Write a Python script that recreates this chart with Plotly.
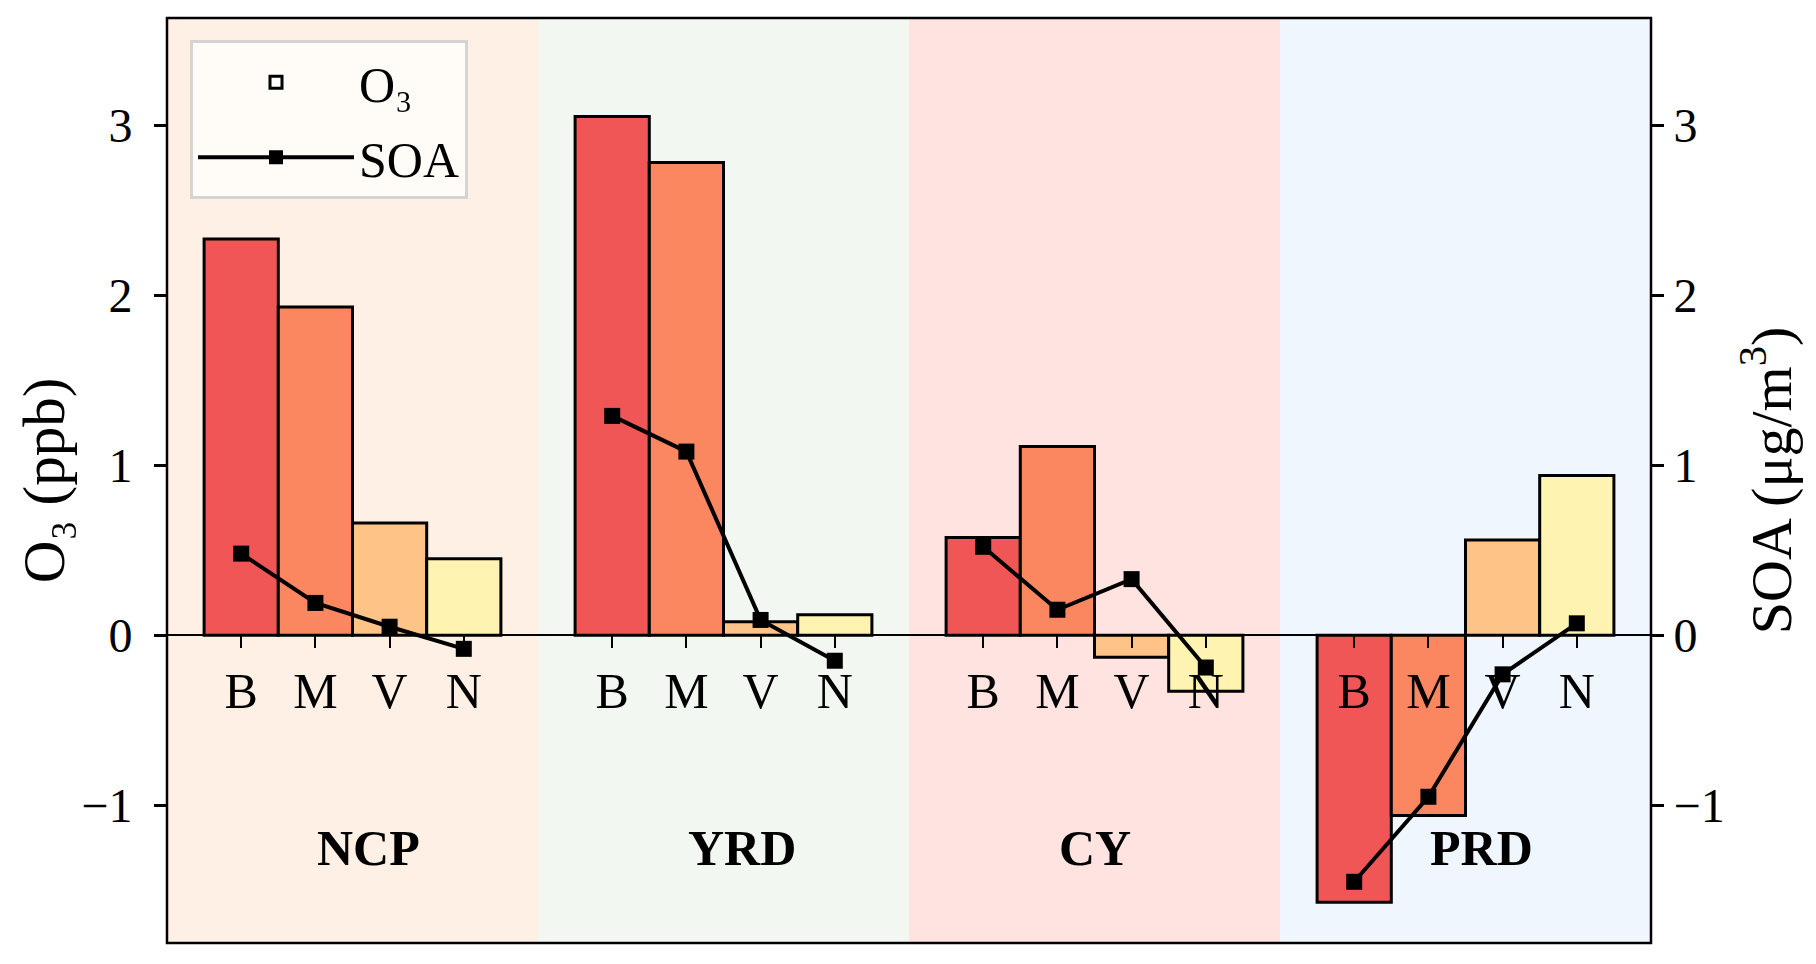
import plotly.graph_objects as go

# data
regions = ["NCP", "YRD", "CY", "PRD"]
sources = ["B", "M", "V", "N"]
o3_ncp = [2.33, 1.93, 0.66, 0.45]
o3_yrd = [3.05, 2.78, 0.08, 0.12]
o3_cy = [0.575, 1.11, -0.13, -0.33]
o3_prd = [-1.57, -1.06, 0.56, 0.94]
soa_ncp = [0.48, 0.19, 0.05, -0.08]
soa_yrd = [1.29, 1.08, 0.09, -0.15]
soa_cy = [0.52, 0.15, 0.33, -0.19]
soa_prd = [-1.45, -0.95, -0.23, 0.07]
y_ticks = [-1, 0, 1, 2, 3]

bar_colors = ["#F05656", "#FA8760", "#FEC386", "#FEF3B0"]
bg_colors = ["#FEF0E4", "#F2F8F1", "#FEE3E0", "#EFF6FD"]

FONT = "Liberation Serif"
YR = [-1.81, 3.63]
zero_pos = -YR[0] / (YR[1] - YR[0])
NB = "\u00a0"

o3_all = [o3_ncp, o3_yrd, o3_cy, o3_prd]
soa_all = [soa_ncp, soa_yrd, soa_cy, soa_prd]

fig = go.Figure()

xs_all = []
for g, reg in enumerate(regions):
    xs = [g * 5 + i for i in range(len(sources))]
    xs_all += xs
    fig.add_trace(go.Bar(
        x=xs, y=o3_all[g], width=1,
        marker=dict(color=bar_colors, line=dict(color="black", width=3)),
        showlegend=False))
    fig.add_shape(type="rect", xref="x", yref="paper",
                  x0=g * 5 - 1, x1=g * 5 + 4, y0=0, y1=1,
                  fillcolor=bg_colors[g], line_width=0, layer="below")
    fig.add_annotation(x=g * 5 + 1, y=-1.25, xref="x", yref="y",
                       xanchor="left", text="<b>" + reg + "</b>", showarrow=False,
                       font=dict(family=FONT, size=50, color="black"))

for g in range(len(regions)):
    xs = [g * 5 + i for i in range(len(sources))]
    fig.add_trace(go.Scatter(
        x=xs, y=soa_all[g], yaxis="y2", mode="lines+markers",
        line=dict(color="black", width=4),
        marker=dict(symbol="square", size=16, color="black"),
        showlegend=False))

# legend entries
fig.add_trace(go.Bar(x=[None], y=[None], name="O₃", legendgroup="a",
                     marker=dict(color="white", line=dict(color="black", width=3))))
fig.add_trace(go.Scatter(x=[None], y=[None], name="SOA", mode="lines+markers",
                         legendgroup="b",
                         line=dict(color="black", width=4),
                         marker=dict(symbol="square", size=14, color="black")))

axis_common = dict(range=YR, tickvals=y_ticks, showgrid=False, zeroline=False,
                   ticks="outside", ticklen=12, tickwidth=2.5, tickcolor="black",
                   tickfont=dict(size=48))

fig.update_layout(
    width=1800, height=948,
    margin=dict(l=159, r=157, t=10, b=13),
    plot_bgcolor="white", paper_bgcolor="white",
    font=dict(family=FONT, size=48, color="black"),
    barmode="overlay",
    legend=dict(x=0.0155, y=0.976, xanchor="left", yanchor="top",
                bgcolor="rgba(255,253,250,0.9)", bordercolor="#d4d4d4", borderwidth=3,
                font=dict(size=50), itemwidth=156, tracegroupgap=7),
    xaxis=dict(range=[-1, 19], tickvals=xs_all, ticktext=sources * len(regions),
               anchor="free", position=zero_pos,
               showline=True, linecolor="black", linewidth=2,
               ticks="outside", ticklen=12, tickwidth=2, tickcolor="black",
               showgrid=False, zeroline=False, tickfont=dict(size=50)),
    yaxis=dict(ticktext=[("−" if v < 0 else "") + str(abs(v)) + NB for v in y_ticks],
               **axis_common),
    yaxis2=dict(overlaying="y", side="right", **axis_common),
    shapes=list(fig.layout.shapes) + [
        dict(type="rect", xref="paper", yref="paper", x0=0, x1=1, y0=0, y1=1,
             line=dict(color="black", width=2.5), layer="above")],
)

# axis titles
fig.add_annotation(x=-0.083, y=0.5, xref="paper", yref="paper", textangle=-90,
                   xanchor="center", yanchor="middle",
                   text="O₃ (ppb)", showarrow=False,
                   font=dict(family=FONT, size=59))
fig.add_annotation(x=1.078, y=0.5, xref="paper", yref="paper", textangle=-90,
                   xanchor="center", yanchor="middle",
                   text="SOA (μg/m<sup>3</sup>)", showarrow=False,
                   font=dict(family=FONT, size=58))

fig.write_html("out.html")
